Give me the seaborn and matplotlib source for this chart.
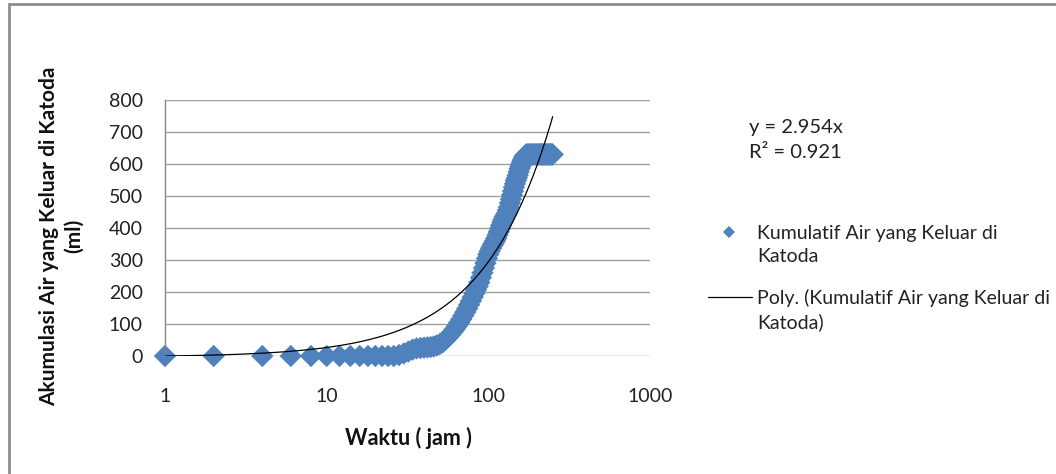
import numpy as np
import pandas as pd
import matplotlib
matplotlib.use("Agg")
import matplotlib.pyplot as plt
import seaborn as sns
from matplotlib.lines import Line2D
from matplotlib.patches import Rectangle

# ---- data ----
waktu = [1] + list(range(2, 252, 2))  # hours
kumulatif = [
    0,                                   # 1
    0, 0, 0, 0, 0, 0, 0, 0, 0, 0,        # 2-20
    0, 0, 0, 3, 8, 14, 20, 24, 25, 26,   # 22-40
    27, 28, 30, 33, 37, 42, 50, 58, 66, 75,   # 42-60
    84, 94, 104, 115, 126, 137, 148, 160, 172, 184,  # 62-80
    196, 207, 218, 230, 245, 260, 275, 290, 305, 318,  # 82-100
    328, 337, 345, 352, 360, 368, 378, 388, 398, 408,  # 102-120
    418, 426, 434, 440, 446, 455, 465, 478, 490, 503,  # 122-140
    515, 527, 538, 548, 556, 565, 575, 585, 593, 600,  # 142-160
    607, 613, 619, 624, 628, 630, 630, 630, 630, 630,  # 162-180
    630, 630, 630, 630, 630, 630, 630, 630, 630, 630,  # 182-200
    630, 630, 630, 630, 630, 630, 630, 630, 630, 630,  # 202-220
    630, 630, 630, 630, 630, 630, 630, 630, 630, 630,  # 222-240
    630, 630, 630, 630, 630,                           # 242-250
]
trend_coef = [0.0002, 2.954, -3.0]   # polynomial trend (estimated)
eq_text = "y = 2.954x"
r2_text = "R² = 0.921"
y_ticks = [0, 100, 200, 300, 400, 500, 600, 700, 800]
x_ticks = [1, 10, 100, 1000]
x_ticklabels = ["1", "10", "100", "1000"]
series_label = "Kumulatif Air yang Keluar di\nKatoda"
trend_label = "Poly. (Kumulatif Air yang Keluar di\nKatoda)"

df = pd.DataFrame({"Waktu": waktu, "Kumulatif": kumulatif})
xt = np.linspace(min(waktu), max(waktu), 400)
trend_df = pd.DataFrame({"Waktu": xt, "Trend": np.polyval(trend_coef, xt)})

sns.set_style("white")
plt.rcParams["font.family"] = ["Lato", "DejaVu Sans"]

W, H = 1056, 474
fig = plt.figure(figsize=(W / 100, H / 100), dpi=100)
L, R, T, B = 165, 650, 100, 356
ax = fig.add_axes([L / W, 1 - B / H, (R - L) / W, (B - T) / H])

blue = "#4F81BD"
txt = "#222222"
for yv in y_ticks:
    ax.axhline(yv, color="#A0A0A0", lw=1.0, zorder=0)

sns.lineplot(data=trend_df, x="Waktu", y="Trend", ax=ax, color="black",
             lw=0.9, zorder=3, legend=False)
sns.scatterplot(data=df, x="Waktu", y="Kumulatif", ax=ax, marker="D", s=130,
                color=blue, edgecolor="none", linewidth=0, zorder=2,
                clip_on=False, legend=False)

ax.set_xscale("log")
ax.set_xlim(1, 1000)
ax.set_ylim(0, 800)
ax.set_xticks(x_ticks)
ax.set_xticklabels(x_ticklabels)
ax.minorticks_off()
ax.set_yticks(y_ticks)
ax.tick_params(axis="x", length=0, pad=23, labelsize=14, colors=txt)
ax.tick_params(axis="y", length=0, pad=16, labelsize=14, colors=txt)
for s in ["top", "right", "bottom"]:
    ax.spines[s].set_visible(False)
ax.spines["left"].set_color("#868686")
ax.spines["left"].set_linewidth(1.0)
ax.set_xlabel("")
ax.set_ylabel("")

fig.text(408 / W, 1 - 438 / H, "Waktu ( jam )", ha="center", va="center",
         fontsize=15.5, fontweight="bold", color="#111111")
fig.text(62 / W, 1 - 236 / H, "Akumulasi Air yang Keluar di Katoda\n(ml)",
         ha="center", va="center", rotation=90, multialignment="center",
         fontsize=15, fontweight="bold", color="#111111", linespacing=1.3)

fig.text(749 / W, 1 - 127 / H, eq_text, ha="left", va="center", fontsize=14.5,
         color=txt)
fig.text(749 / W, 1 - 153 / H, r2_text, ha="left", va="center", fontsize=14.5,
         color=txt)

# legend drawn manually so each key aligns with the first line of its label
fig.add_artist(Line2D([729 / W], [1 - 232 / H], marker="D", color=blue,
                      ls="none", markersize=6, markeredgewidth=0,
                      transform=fig.transFigure))
fig.add_artist(Line2D([708 / W, 752 / W], [1 - 297 / H, 1 - 297 / H],
                      color="black", lw=0.9, transform=fig.transFigure))
fig.text(757 / W, 1 - 245 / H, series_label, ha="left", va="center",
         fontsize=14, color=txt, linespacing=1.42)
fig.text(757 / W, 1 - 310 / H, trend_label, ha="left", va="center",
         fontsize=14, color=txt, linespacing=1.42)

# chart-area border (top and left visible)
fig.patches.append(Rectangle((8.5 / W, -0.1), 1.2, 1 - 4 / H + 0.1,
                             transform=fig.transFigure, fill=False,
                             edgecolor="#8C8C8C", lw=2.0, zorder=10))

fig.savefig("out.png", dpi=100)
